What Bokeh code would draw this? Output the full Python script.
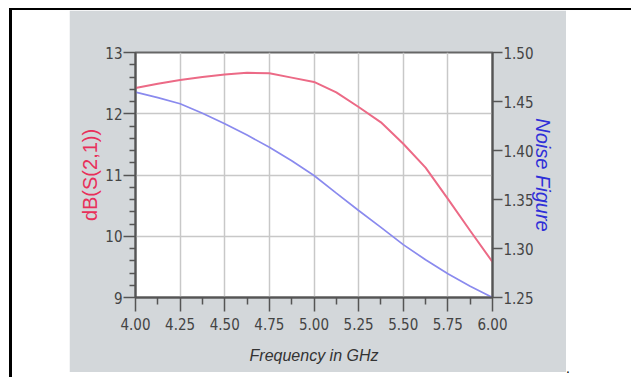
from bokeh.plotting import figure
from bokeh.models import Range1d, LinearAxis, FixedTicker, PrintfTickFormatter, Spacer, Div
from bokeh.layouts import row, column
from bokeh.embed import file_html
from bokeh.resources import INLINE

# ---- data ----
freq_ghz = [4.0, 4.125, 4.25, 4.375, 4.5, 4.625, 4.75, 4.875, 5.0,
            5.125, 5.25, 5.375, 5.5, 5.625, 5.75, 5.875, 6.0]
s21_db = [12.42, 12.49, 12.55, 12.60, 12.64, 12.67, 12.66, 12.59, 12.52,
          12.35, 12.11, 11.86, 11.51, 11.12, 10.61, 10.09, 9.58]
noise_figure = [1.4595, 1.4540, 1.4477, 1.4380, 1.4272, 1.4157, 1.4034, 1.3895, 1.3745,
                1.3565, 1.3388, 1.3215, 1.3040, 1.2885, 1.2742, 1.2615, 1.2500]

x_major_ticks = [4.0, 4.25, 4.5, 4.75, 5.0, 5.25, 5.5, 5.75, 6.0]
x_minor_ticks = [4.125, 4.375, 4.625, 4.875, 5.125, 5.375, 5.625, 5.875]
left_major_ticks = [9, 10, 11, 12, 13]
left_minor_ticks = [9.2, 9.4, 9.6, 9.8, 10.2, 10.4, 10.6, 10.8, 11.2, 11.4, 11.6, 11.8,
                    12.2, 12.4, 12.6, 12.8]
right_major_ticks = [1.25, 1.30, 1.35, 1.40, 1.45, 1.50]

GRAY = "#d3d7da"
TICK_FONT = "Liberation Sans Narrow, DejaVu Sans Condensed"

p = figure(width=497, height=362,
           x_range=Range1d(4.0, 6.0), y_range=Range1d(9, 13),
           output_backend="svg", toolbar_location=None,
           min_border_left=66, min_border_right=74,
           min_border_top=42, min_border_bottom=75,
           border_fill_color=GRAY, background_fill_color="white")
p.extra_y_ranges = {"nf": Range1d(1.25, 1.50)}

p.outline_line_color = "#666666"
p.outline_line_width = 2

# grids
p.xgrid.ticker = FixedTicker(ticks=x_major_ticks)
p.ygrid.ticker = FixedTicker(ticks=left_major_ticks)
for g in (p.xgrid, p.ygrid):
    g.grid_line_color = "#c8c8c8"
    g.grid_line_width = 1.5

# bottom axis
xa = p.xaxis[0]
xa.ticker = FixedTicker(ticks=x_major_ticks, minor_ticks=x_minor_ticks)
xa.formatter = PrintfTickFormatter(format="%.2f")
xa.axis_label = "Frequency in GHz"

# left axis
ya = p.yaxis[0]
ya.ticker = FixedTicker(ticks=left_major_ticks, minor_ticks=left_minor_ticks)
ya.formatter = PrintfTickFormatter(format="%d")
ya.axis_label = "dB(S(2,1))"

# right axis
ra = LinearAxis(y_range_name="nf",
                ticker=FixedTicker(ticks=right_major_ticks),
                formatter=PrintfTickFormatter(format="%.2f"),
                axis_label="Noise Figure")
p.add_layout(ra, "right")

for ax in (xa, ya, ra):
    ax.axis_line_color = "#555555"
    ax.axis_line_width = 2
    ax.major_tick_line_color = "#555555"
    ax.minor_tick_line_color = "#555555"
    ax.major_tick_line_width = 1.5
    ax.minor_tick_line_width = 1.5
    ax.major_tick_in = 0
    ax.minor_tick_in = 0
    ax.major_label_text_font = TICK_FONT
    ax.major_label_text_font_size = "15px"
    ax.major_label_text_color = "#444444"

xa.major_tick_out = 14
xa.minor_tick_out = 7
xa.major_label_standoff = 6
xa.axis_label_standoff = 14
xa.axis_label_text_font = "Liberation Sans"
xa.axis_label_text_font_style = "italic"
xa.axis_label_text_font_size = "16px"
xa.axis_label_text_color = "#333333"

ya.major_tick_out = 12
ya.minor_tick_out = 6
ya.major_label_standoff = 1
ya.axis_label_standoff = 1
ya.axis_label_text_font = "Liberation Sans"
ya.axis_label_text_font_style = "normal"
ya.axis_label_text_font_size = "20px"
ya.axis_label_text_color = "#e8305a"

ra.major_tick_out = 10
ra.minor_tick_out = 0
ra.major_label_standoff = 1
ra.axis_label_standoff = -5
ra.axis_label_text_font = "Liberation Sans"
ra.axis_label_text_font_style = "italic"
ra.axis_label_text_font_size = "20px"
ra.axis_label_text_color = "#2f2fd8"

p.line(freq_ghz, s21_db, line_color="#ec6a86", line_width=2)
p.line(freq_ghz, noise_figure, y_range_name="nf", line_color="#8a8aee", line_width=1.7)

# page around the chart: white page with black rules on top and left, and the trailing "."
top_rule = Div(width=622, height=2, margin=0, styles={"background-color": "black"})
left_rule = Div(width=3, height=367, margin=0, styles={"background-color": "black"})
dot = Div(text=".", width=10, height=12, margin=0,
          styles={"font-size": "14px", "line-height": "12px", "color": "black",
                  "font-family": "Liberation Sans"})
dot_col = column(Spacer(width=10, height=352), dot)
inner = row(left_rule, Spacer(width=57, height=367), p, dot_col)
page = column(Spacer(width=631, height=8),
              row(Spacer(width=9, height=369), column(top_rule, inner)))

open("out.html", "w").write(file_html(page, INLINE))
